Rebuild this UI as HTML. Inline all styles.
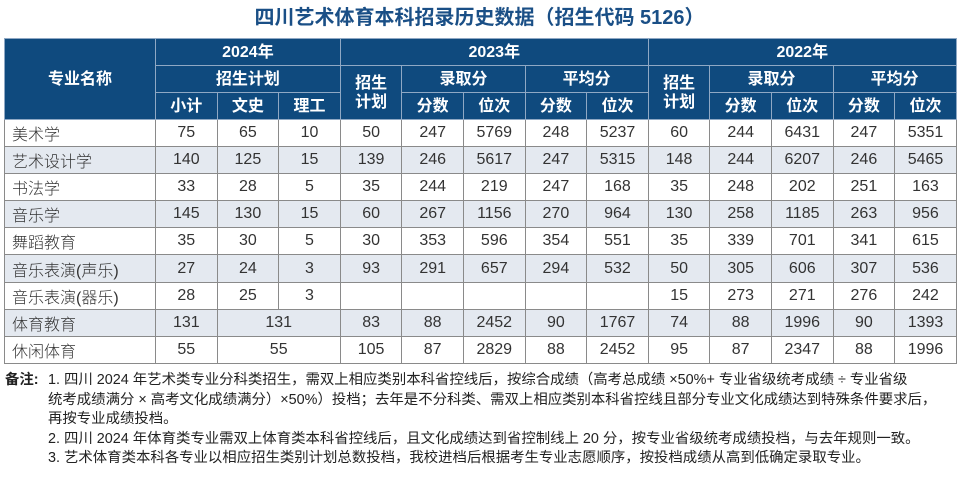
<!DOCTYPE html>
<html><head><meta charset="utf-8">
<style>
*{margin:0;padding:0;box-sizing:border-box}
body{width:959px;height:485px;background:#fff;font-family:"Liberation Sans","Noto Sans CJK SC",sans-serif;position:relative;overflow:hidden;color:#222}
#title{position:absolute;left:0;top:5px;width:959px;text-align:center;font-size:20px;font-weight:bold;color:#1a4f86;line-height:26px}
table{position:absolute;left:4px;top:38px;width:952px;border-collapse:collapse;table-layout:fixed}
th{background:#0f4a7e;color:#fff;font-weight:bold;font-size:16px;border:1px solid #8fa8c4;text-align:center;height:27px;padding:0;line-height:19px}
td{font-size:16px;border:1px solid #8a8a8a;text-align:center;height:27.1px;padding:0;font-weight:300;color:#333}
td.n{text-align:left;padding-left:7px}
tr.s td{background:#e4e9f0}
#notes{position:absolute;left:5px;top:371px;font-size:14.4px;line-height:19.5px;color:#222}
#notes .lb{position:absolute;left:0;top:0;font-weight:bold}
#notes .tx{margin-left:43px;width:910px;white-space:nowrap}
</style></head><body>
<div id="title">四川艺术体育本科招录历史数据（招生代码 5126）</div>
<table>
<colgroup><col style="width:151px"><col span="13" style="width:61.6px"></colgroup>
<tr><th rowspan="3">专业名称</th><th colspan="3">2024年</th><th colspan="5">2023年</th><th colspan="5">2022年</th></tr>
<tr><th colspan="3">招生计划</th><th rowspan="2">招生<br>计划</th><th colspan="2">录取分</th><th colspan="2">平均分</th><th rowspan="2">招生<br>计划</th><th colspan="2">录取分</th><th colspan="2">平均分</th></tr>
<tr><th>小计</th><th>文史</th><th>理工</th><th>分数</th><th>位次</th><th>分数</th><th>位次</th><th>分数</th><th>位次</th><th>分数</th><th>位次</th></tr>
<tr><td class="n">美术学</td><td>75</td><td>65</td><td>10</td><td>50</td><td>247</td><td>5769</td><td>248</td><td>5237</td><td>60</td><td>244</td><td>6431</td><td>247</td><td>5351</td></tr>
<tr class="s"><td class="n">艺术设计学</td><td>140</td><td>125</td><td>15</td><td>139</td><td>246</td><td>5617</td><td>247</td><td>5315</td><td>148</td><td>244</td><td>6207</td><td>246</td><td>5465</td></tr>
<tr><td class="n">书法学</td><td>33</td><td>28</td><td>5</td><td>35</td><td>244</td><td>219</td><td>247</td><td>168</td><td>35</td><td>248</td><td>202</td><td>251</td><td>163</td></tr>
<tr class="s"><td class="n">音乐学</td><td>145</td><td>130</td><td>15</td><td>60</td><td>267</td><td>1156</td><td>270</td><td>964</td><td>130</td><td>258</td><td>1185</td><td>263</td><td>956</td></tr>
<tr><td class="n">舞蹈教育</td><td>35</td><td>30</td><td>5</td><td>30</td><td>353</td><td>596</td><td>354</td><td>551</td><td>35</td><td>339</td><td>701</td><td>341</td><td>615</td></tr>
<tr class="s"><td class="n">音乐表演(声乐)</td><td>27</td><td>24</td><td>3</td><td>93</td><td>291</td><td>657</td><td>294</td><td>532</td><td>50</td><td>305</td><td>606</td><td>307</td><td>536</td></tr>
<tr><td class="n">音乐表演(器乐)</td><td>28</td><td>25</td><td>3</td><td></td><td></td><td></td><td></td><td></td><td>15</td><td>273</td><td>271</td><td>276</td><td>242</td></tr>
<tr class="s"><td class="n">体育教育</td><td>131</td><td colspan="2">131</td><td>83</td><td>88</td><td>2452</td><td>90</td><td>1767</td><td>74</td><td>88</td><td>1996</td><td>90</td><td>1393</td></tr>
<tr><td class="n">休闲体育</td><td>55</td><td colspan="2">55</td><td>105</td><td>87</td><td>2829</td><td>88</td><td>2452</td><td>95</td><td>87</td><td>2347</td><td>88</td><td>1996</td></tr>
</table>
<div id="notes">
<div class="lb">备注:</div>
<div class="tx">
<div>1. 四川 2024 年艺术类专业分科类招生，需双上相应类别本科省控线后，按综合成绩（高考总成绩 ×50%+ 专业省级统考成绩 ÷ 专业省级<br>统考成绩满分 × 高考文化成绩满分）×50%）投档；去年是不分科类、需双上相应类别本科省控线且部分专业文化成绩达到特殊条件要求后，<br>再按专业成绩投档。</div>
<div>2. 四川 2024 年体育类专业需双上体育类本科省控线后，且文化成绩达到省控制线上 20 分，按专业省级统考成绩投档，与去年规则一致。</div>
<div>3. 艺术体育类本科各专业以相应招生类别计划总数投档，我校进档后根据考生专业志愿顺序，按投档成绩从高到低确定录取专业。</div>
</div></div>
</body></html>
